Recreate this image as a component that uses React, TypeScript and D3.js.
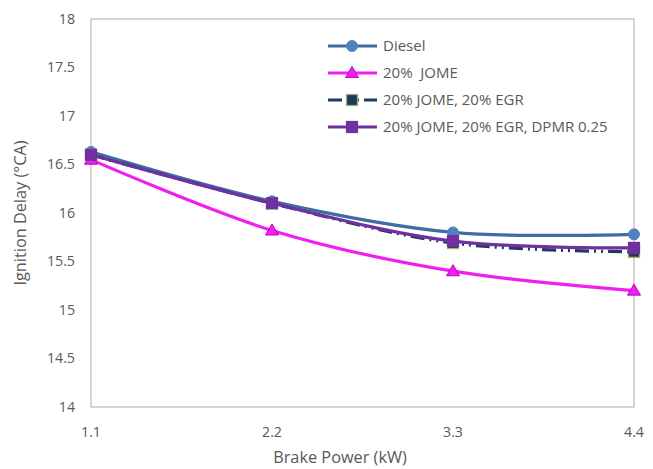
import React from "react";
import * as d3 from "d3";

const power = [1.1, 2.2, 3.3, 4.4];
const diesel = [16.63, 16.12, 15.8, 15.78];
const jome = [16.55, 15.82, 15.4, 15.2];
const jomeEgr = [16.6, 16.1, 15.69, 15.6];
const jomeEgrDpmr = [16.6, 16.1, 15.71, 15.64];
const yTicks = [14, 14.5, 15, 15.5, 16, 16.5, 17, 17.5, 18];

const series = [
  { name: "Diesel", values: diesel, stroke: "#3F6CA3", fill: "#4F81BD", edge: "#4F81BD", marker: "circle", dash: "" },
  { name: "20%  JOME", values: jome, stroke: "#F01EF0", fill: "#F01EF0", edge: "#C000C0", marker: "triangle", dash: "" },
  { name: "20% JOME, 20% EGR", values: jomeEgr, stroke: "#1F3864", fill: "#1F3864", edge: "#9BBB59", marker: "square", dash: "14,5,2,5,2,5" },
  { name: "20% JOME, 20% EGR, DPMR 0.25", values: jomeEgrDpmr, stroke: "#7030A0", fill: "#7030A0", edge: "#7030A0", marker: "square", dash: "" },
];

const W = 653;
const H = 469;
const m = { left: 91, right: 19, top: 19, bottom: 62 };
const font = "'Open Sans', sans-serif";
const grey = "#595959";

const Marker = ({ type, x, y, fill, edge }: any) => {
  if (type === "circle") return <circle cx={x} cy={y} r={5.5} fill={fill} stroke={edge} strokeWidth={1} />;
  if (type === "triangle") {
    const s = 6.5;
    return <path d={`M${x},${y - s}L${x + s},${y + s * 0.7}L${x - s},${y + s * 0.7}Z`} fill={fill} stroke={edge} strokeWidth={1} />;
  }
  return <rect x={x - 5.5} y={y - 5.5} width={11} height={11} fill={fill} stroke={edge} strokeWidth={1.2} />;
};

export default function App() {
  const x = d3.scaleLinear().domain([1.1, 4.4]).range([m.left, W - m.right]);
  const y = d3.scaleLinear().domain([14, 18]).range([H - m.bottom, m.top]);
  const line = d3
    .line<number>()
    .x((_, i) => x(power[i]))
    .y((d) => y(d))
    .curve(d3.curveCatmullRom.alpha(0.5));

  return (
    <svg width={W} height={H} style={{ position: "absolute", left: 0, top: 0 }}>
      <rect width={W} height={H} fill="#fff" />
      <rect
        x={m.left}
        y={m.top}
        width={W - m.left - m.right}
        height={H - m.top - m.bottom}
        fill="none"
        stroke="#BFBFBF"
        strokeWidth={1.3}
      />
      {yTicks.map((t) => (
        <text key={t} x={m.left - 16} y={y(t)} dy="0.35em" textAnchor="end" fontFamily={font} fontSize={14.2} fill={grey}>
          {t}
        </text>
      ))}
      {power.map((p) => (
        <text key={p} x={x(p)} y={H - m.bottom + 30} textAnchor="middle" fontFamily={font} fontSize={14.2} fill={grey}>
          {p.toFixed(1)}
        </text>
      ))}
      <text x={340} y={H - 6} textAnchor="middle" fontFamily={font} fontSize={16.3} fill={grey}>
        Brake Power (kW)
      </text>
      <text
        transform={`translate(${26},${(m.top + H - m.bottom) / 2}) rotate(-90)`}
        textAnchor="middle"
        fontFamily={font}
        fontSize={16.3}
        fill={grey}
      >
        Ignition Delay (°CA)
      </text>
      {series.map((s) => (
        <g key={s.name}>
          <path d={line(s.values) || ""} fill="none" stroke={s.stroke} strokeWidth={3.2} strokeDasharray={s.dash} />
          {s.values.map((v, i) => (
            <Marker key={i} type={s.marker} x={x(power[i])} y={y(v)} fill={s.fill} edge={s.edge} />
          ))}
        </g>
      ))}
      {series.map((s, i) => {
        const ly = 46 + i * 27;
        return (
          <g key={s.name}>
            <line x1={328} x2={377} y1={ly} y2={ly} stroke={s.stroke} strokeWidth={3.2} strokeDasharray={s.dash ? "14,5,2,8,2,5" : ""} />
            <Marker type={s.marker} x={352} y={ly} fill={s.fill} edge={s.edge} />
            <text x={383} y={ly} dy="0.35em" fontFamily={font} fontSize={15} fill={grey} style={{ whiteSpace: "pre" }}>
              {s.name}
            </text>
          </g>
        );
      })}
    </svg>
  );
}
